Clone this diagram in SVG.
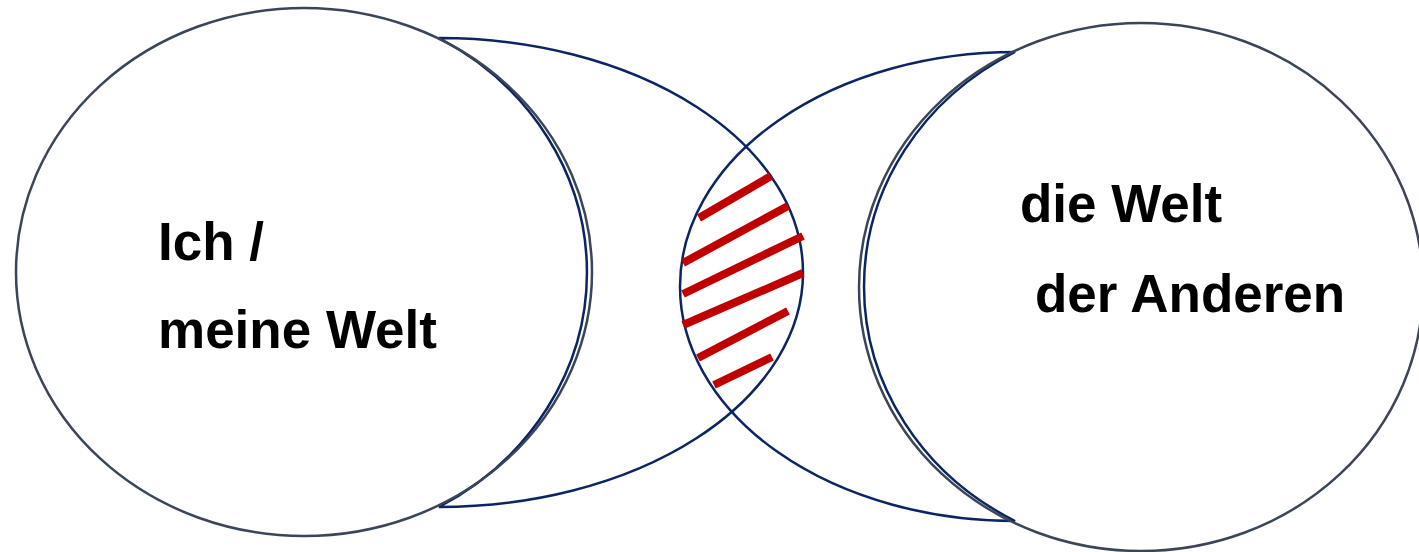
<svg xmlns="http://www.w3.org/2000/svg" width="1419" height="552" viewBox="0 0 1419 552">
<style>
.world{fill:none;stroke:#0b2563;stroke-width:2.5}
.circle{fill:none;stroke:#3a4558;stroke-width:2.5}
.hatch{stroke:#c00000;stroke-width:8;stroke-linecap:butt}
.label{font-family:"Liberation Sans",Arial,sans-serif;font-weight:bold;font-size:53px;fill:#000}
</style>
<rect width="1419" height="552" fill="#fff"/>
<g id="left-world">
<path class="world" d="M439,38 A364,234.5 0 0 1 439,507 A295,270.5 0 0 0 439,38 Z"/>
</g>
<g id="right-world">
<path class="world" d="M1015,52 A335,234.5 0 0 0 1015,521 A290,267.2 0 0 1 1015,52 Z"/>
</g>
<g id="me">
<ellipse class="circle" cx="304" cy="272" rx="288" ry="264"/>
<text class="label" x="158" y="260">Ich /</text>
<text class="label" x="158" y="348">meine Welt</text>
</g>
<g id="others">
<ellipse class="circle" cx="1141" cy="287" rx="282" ry="264"/>
<text class="label" x="1020" y="222">die Welt</text>
<text class="label" x="1035" y="312">der Anderen</text>
</g>
<g id="overlap">
<line class="hatch" x1="699" y1="218" x2="771" y2="176"/>
<line class="hatch" x1="683" y1="263" x2="788" y2="206"/>
<line class="hatch" x1="683" y1="294" x2="803" y2="236"/>
<line class="hatch" x1="683" y1="325" x2="803" y2="273"/>
<line class="hatch" x1="698" y1="358" x2="788" y2="311"/>
<line class="hatch" x1="714" y1="385" x2="772" y2="357"/>
</g>
</svg>
